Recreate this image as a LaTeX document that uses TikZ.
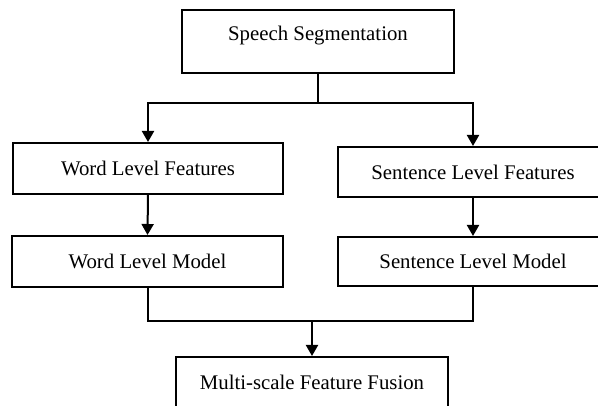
\documentclass[tikz,border=0pt]{standalone}
\usepackage{fontspec}
\setmainfont{Liberation Serif}
\usetikzlibrary{arrows.meta}
\begin{document}
\begin{tikzpicture}[x=1pt,y=1pt,
  box/.style={draw=black,line width=2pt,minimum width=#1,inner sep=0pt,
    font=\fontsize{20.8}{24}\selectfont},
  conn/.style={line width=2pt},
  arr/.style={conn,-{Triangle[length=11pt,width=12pt]}}]
\useasboundingbox (0,0) rectangle (598,405);
\clip (0,0) rectangle (598,405);
\fill[white] (0,0) rectangle (598,405);
\node[box=272pt,minimum height=63pt] (top) at (318,363.5) {\raisebox{6pt}[\height][\depth]{Speech Segmentation}};
\node[box=270pt,minimum height=51pt] (wf) at (148,236.5) {Word Level Features};
\node[box=271pt,minimum height=51pt] (wm) at (147.5,143.5) {Word Level Model};
\node[box=270pt,minimum height=50pt] (sf) at (473,233) {Sentence Level Features};
\node[box=270pt,minimum height=49pt] (sm) at (473,143.5) {Sentence Level Model};
\node[box=272pt,minimum height=50pt] (bot) at (312,23) {Multi-scale Feature Fusion};
\coordinate (split) at (318,302);
\coordinate (merge) at (312,84);
\draw[conn] (top.south) -- (split);
\draw[arr] (split) -| (wf.north);
\draw[arr] (split) -| (sf.north);
\draw[arr] (wf.south) -- (wm.north);
\draw[arr] (sf.south) -- (sm.north);
\draw[conn] (wm.south) |- (merge) -| (sm.south);
\draw[arr] (merge) -- (bot.north);
\end{tikzpicture}
\end{document}
